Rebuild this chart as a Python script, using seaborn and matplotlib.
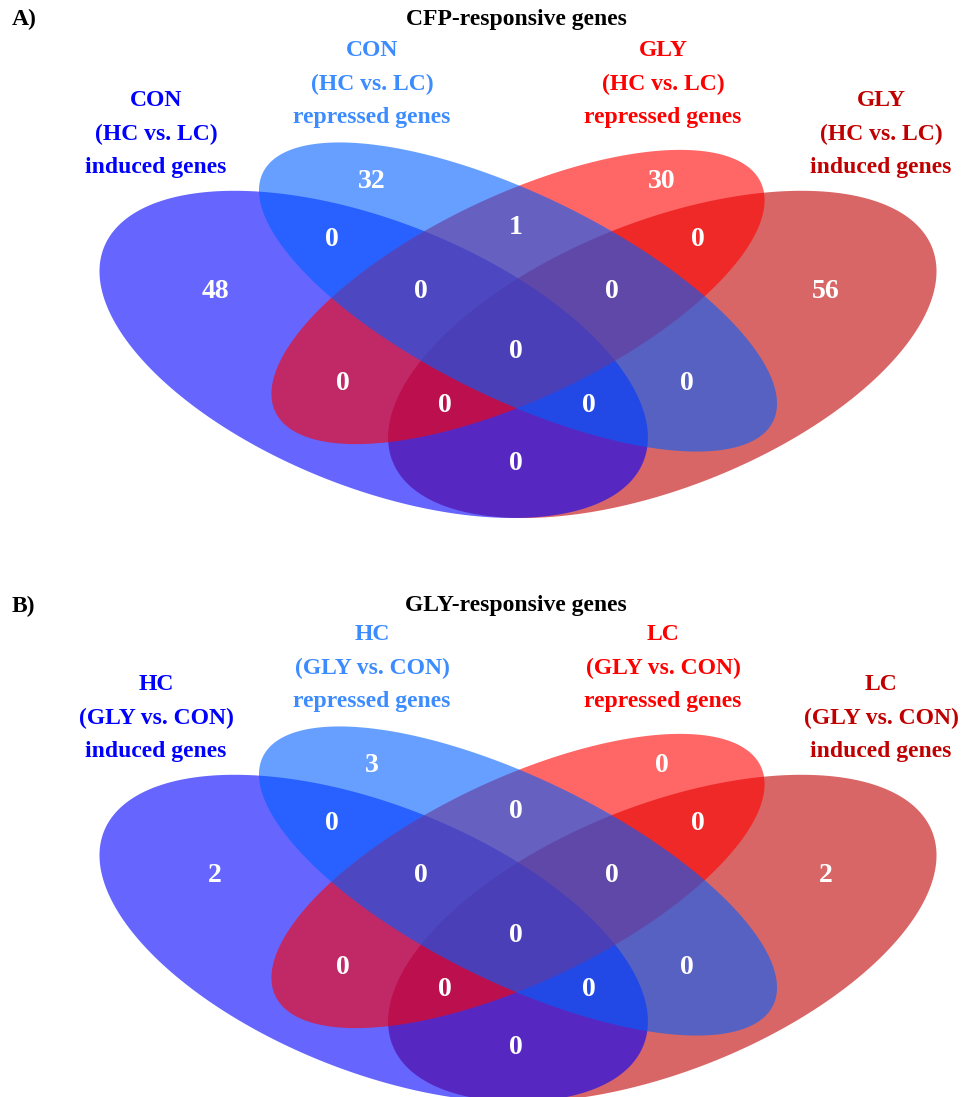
import numpy as np
import seaborn as sns
from matplotlib import pyplot as plt

sns.set_style("white")
plt.rcParams['font.family'] = ['Liberation Serif', 'DejaVu Serif']

# ---------------- data ----------------
titles = ["CFP-responsive genes", "GLY-responsive genes"]
panel_tags = ["A)", "B)"]

set_labels_a = ["CON\n(HC vs. LC)\ninduced genes", "CON\n(HC vs. LC)\nrepressed genes",
                "GLY\n(HC vs. LC)\nrepressed genes", "GLY\n(HC vs. LC)\ninduced genes"]
set_labels_b = ["HC\n(GLY vs. CON)\ninduced genes", "HC\n(GLY vs. CON)\nrepressed genes",
                "LC\n(GLY vs. CON)\nrepressed genes", "LC\n(GLY vs. CON)\ninduced genes"]

# regions: 1, 2, 3, 4, 12, 23, 34, 123, 234, 1234, 13, 134, 124, 24, 14
counts_a = [48, 32, 30, 56, 0, 1, 0, 0, 0, 0, 0, 0, 0, 0, 0]
counts_b = [2, 3, 0, 2, 0, 0, 0, 0, 0, 0, 0, 0, 0, 0, 0]

fill_colors = ["#0000FF", "#005FFF", "#FF0000", "#C10000"]
text_colors = ["#0000FF", "#3C8CFF", "#FF0000", "#C00000"]

# ---------------- layout ----------------
# ellipses (VennDiagram style units): cx, cy, a, b, angle
ellipses = {0: (0.35, 0.47, 0.35, 0.20, 135),
            1: (0.50, 0.57, 0.35, 0.15, 135),
            2: (0.50, 0.57, 0.33, 0.15, 45),
            3: (0.65, 0.47, 0.35, 0.20, 45)}
draw_order = [3, 0, 2, 1]

region_pos = [(215, 292), (372, 182), (662, 182), (826, 292), (332, 240), (516, 228),
              (698, 240), (421, 292), (612, 292), (516, 352), (343, 383), (445, 405),
              (589, 405), (687, 383), (516, 463)]
label_pos = [(156, 134), (372, 84), (663, 84), (881, 134)]
panel_offsets = [0, 584]

SX, SY = 962, 574


def to_px(x, y, off):
    return 518 + (x - 0.5) * SX, 297 + off - (y - 0.57) * SY


fig = plt.figure(figsize=(9.74, 10.97), dpi=100)
ax = fig.add_axes([0, 0, 1, 1])
ax.set_xlim(0, 974)
ax.set_ylim(1097, 0)
ax.axis("off")

t = np.linspace(0, 2 * np.pi, 400)
for p, off in enumerate(panel_offsets):
    counts = counts_a if p == 0 else counts_b
    labels = set_labels_a if p == 0 else set_labels_b
    for i in draw_order:
        cx, cy, a, b, ang = ellipses[i]
        th = np.deg2rad(ang)
        ex = cx + a * np.cos(t) * np.cos(th) - b * np.sin(t) * np.sin(th)
        ey = cy + a * np.cos(t) * np.sin(th) + b * np.sin(t) * np.cos(th)
        px, py = to_px(ex, ey, off)
        ax.fill(px, py, color=fill_colors[i], alpha=0.6, lw=0)
    for (x, y), c in zip(region_pos, counts):
        ax.text(x, y + off, str(c), color="white", fontsize=20, fontweight="bold",
                ha="center", va="center")
    for i, ((x, y), lab) in enumerate(zip(label_pos, labels)):
        ax.text(x, y + off, lab, color=text_colors[i], fontsize=17, fontweight="bold",
                ha="center", va="center", linespacing=1.75)
    ax.text(516, 19 + off + (3 if p else 0), titles[p], fontsize=17, fontweight="bold",
            color="black", ha="center", va="center")
    ax.text(12, 19 + off + (3 if p else 0), panel_tags[p], fontsize=17, fontweight="bold",
            color="black", ha="left", va="center")

plt.savefig("out.png", dpi=100)
